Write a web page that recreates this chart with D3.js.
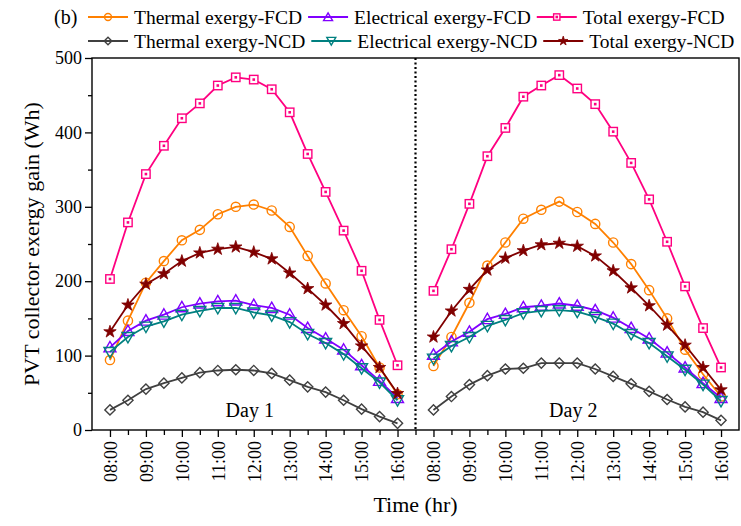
<!DOCTYPE html>
<html>
<head>
<meta charset="utf-8">
<script src="https://cdn.jsdelivr.net/npm/d3@7"></script>
<style>
  body { margin: 0; background: #fff; }
  text { font-family: "Liberation Serif", "Times New Roman", serif; fill: #000; }
</style>
</head>
<body>
<svg id="svg" width="741" height="526"></svg>
<script>
// time labels for one day (half-hour steps)
const times = ["08:00","08:30","09:00","09:30","10:00","10:30","11:00","11:30","12:00",
               "12:30","13:00","13:30","14:00","14:30","15:00","15:30","16:00"];
const days = ["Day 1", "Day 2"];

// day 1 values (Wh)
const thermalFCD1 = [94,147,198,227,255,269,290,300,303,295,273,234,197,161,126,84,48];
const elecFCD1    = [111,133,147,155,165,170,173,174,168,164,155,137,123,108,87,66,43];
const totalFCD1   = [203,279,344,382,419,439,463,474,471,458,427,371,320,268,214,148,87];
const thermalNCD1 = [27,40,55,63,70,77,80,81,80,76,67,58,51,40,28,18,9];
const elecNCD1    = [105,125,139,146,155,160,164,164,158,154,145,129,117,102,83,64,40];
const totalNCD1   = [132,168,196,210,227,238,243,246,239,230,211,190,168,143,113,84,49];

// day 2 values (Wh)
const thermalFCD2 = [86,125,171,221,252,284,296,307,293,277,252,223,188,150,108,75,45];
const elecFCD2    = [101,119,132,149,156,165,167,170,167,161,151,137,123,104,84,63,43];
const totalFCD2   = [187,243,304,368,406,448,463,477,459,438,401,359,310,253,193,137,84];
const thermalNCD2 = [27,45,61,73,82,83,90,90,90,82,72,62,52,41,31,24,13];
const elecNCD2    = [96,113,125,140,148,157,160,161,159,152,143,129,117,99,81,61,39];
const totalNCD2   = [125,160,189,215,231,241,249,251,247,234,214,191,167,141,114,84,54];

const seriesNames = ["Thermal exergy-FCD", "Electrical exergy-FCD", "Total exergy-FCD",
                     "Thermal exergy-NCD", "Electrical exergy-NCD", "Total exergy-NCD"];
const yTicks = [0, 100, 200, 300, 400, 500];

const series = [
  { name: seriesNames[0], d1: thermalFCD1, d2: thermalFCD2, color: "#ff8000", sym: "circle" },
  { name: seriesNames[1], d1: elecFCD1,    d2: elecFCD2,    color: "#8000ff", sym: "triangle" },
  { name: seriesNames[2], d1: totalFCD1,   d2: totalFCD2,   color: "#ff0080", sym: "square" },
  { name: seriesNames[3], d1: thermalNCD1, d2: thermalNCD2, color: "#404040", sym: "diamond" },
  { name: seriesNames[4], d1: elecNCD1,    d2: elecNCD2,    color: "#008080", sym: "triangleDown" },
  { name: seriesNames[5], d1: totalNCD1,   d2: totalNCD2,   color: "#800000", sym: "star" }
];

const svg = d3.select("#svg");
const mLeft = 92, mRight = 739, mTop = 58, mBottom = 430;
const perDay = times.length;              // 17 points
const nSlots = 2 * (perDay + 1);          // 36 slots across the frame

const x = d3.scaleLinear().domain([0, nSlots]).range([mLeft, mRight]);
const y = d3.scaleLinear().domain([0, 500]).range([mBottom, mTop]);
const slot = (day, i) => day * (perDay + 1) + i + 1;

// axes
const majorSlots = [], minorSlots = [];
for (let s = 1; s < nSlots; s++) {
  const i = (s - 1) % (perDay + 1);
  if (i < perDay && i % 2 === 0) majorSlots.push(s); else minorSlots.push(s);
}
const labelOf = s => times[(s - 1) % (perDay + 1)];

svg.append("g").attr("transform", `translate(0,${mBottom})`)
  .call(d3.axisBottom(x).tickValues(minorSlots).tickSize(5).tickFormat(""));
const xMajor = svg.append("g").attr("transform", `translate(0,${mBottom})`)
  .call(d3.axisBottom(x).tickValues(majorSlots).tickSize(7).tickFormat(labelOf));
xMajor.selectAll("text")
  .attr("transform", "rotate(-90)")
  .attr("x", -11).attr("y", 0).attr("dy", "0.35em")
  .style("text-anchor", "end").style("font-size", "18px");

svg.append("g").attr("transform", `translate(${mLeft},0)`)
  .call(d3.axisLeft(y).tickValues([50, 150, 250, 350, 450]).tickSize(4).tickFormat(""));
const yMajor = svg.append("g").attr("transform", `translate(${mLeft},0)`)
  .call(d3.axisLeft(y).tickValues(yTicks).tickSize(7));
yMajor.selectAll("text").attr("x", -10).style("font-size", "18px");

svg.selectAll(".domain").remove();
svg.selectAll(".tick line").attr("stroke", "#000").attr("stroke-width", 1.3);

// frame
svg.append("rect").attr("x", mLeft).attr("y", mTop)
  .attr("width", mRight - mLeft).attr("height", mBottom - mTop)
  .attr("fill", "none").attr("stroke", "#000").attr("stroke-width", 1.4);

// divider between days
svg.append("line")
  .attr("x1", x(perDay + 1)).attr("x2", x(perDay + 1))
  .attr("y1", mTop).attr("y2", mBottom)
  .attr("stroke", "#000").attr("stroke-width", 2.2).attr("stroke-dasharray", "2,2.5");

// markers
function marker(g, sym, color, scale) {
  const k = scale || 1;
  if (sym === "circle") {
    g.append("circle").attr("r", 4.6 * k).attr("fill", "none")
      .attr("stroke", color).attr("stroke-width", 1.4);
  } else if (sym === "square") {
    g.append("rect").attr("x", -4.2 * k).attr("y", -4.2 * k)
      .attr("width", 8.4 * k).attr("height", 8.4 * k)
      .attr("fill", "#fff").attr("stroke", color).attr("stroke-width", 1.4);
    g.append("rect").attr("x", -1.3).attr("y", -1.3).attr("width", 2.6).attr("height", 2.6)
      .attr("fill", color);
  } else if (sym === "diamond") {
    g.append("path").attr("d", d3.symbol(d3.symbolSquare, 52 * k * k)())
      .attr("transform", "rotate(45)")
      .attr("fill", "none").attr("stroke", color).attr("stroke-width", 1.4);
  } else if (sym === "triangle" || sym === "triangleDown") {
    g.append("path").attr("d", d3.symbol(d3.symbolTriangle, 62 * k * k)())
      .attr("transform", (sym === "triangleDown" ? "rotate(180) " : "") + "translate(0,1)")
      .attr("fill", "none").attr("stroke", color).attr("stroke-width", 1.4);
  } else if (sym === "star") {
    g.append("path").attr("d", d3.symbol(d3.symbolStar, 48 * k * k)())
      .attr("fill", color).attr("stroke", color).attr("stroke-width", 0.8);
  }
}

const line = d3.line().x(d => x(d.s)).y(d => y(d.v));

series.forEach(ser => {
  [ser.d1, ser.d2].forEach((vals, day) => {
    const pts = vals.map((v, i) => ({ s: slot(day, i), v }));
    svg.append("path").attr("d", line(pts))
      .attr("fill", "none").attr("stroke", ser.color).attr("stroke-width", 1.8);
    pts.forEach(p => {
      const g = svg.append("g").attr("transform", `translate(${x(p.s)},${y(p.v)})`);
      marker(g, ser.sym, ser.color);
    });
  });
});

// day labels
days.forEach((d, day) => {
  svg.append("text").attr("x", x(slot(day, 8)) - 4).attr("y", 417)
    .attr("text-anchor", "middle").style("font-size", "20px").text(d);
});

// axis titles
svg.append("text").attr("x", (mLeft + mRight) / 2).attr("y", 512)
  .attr("text-anchor", "middle").style("font-size", "22px").text("Time (hr)");
svg.append("text")
  .attr("transform", `translate(39,${(mTop + mBottom) / 2}) rotate(-90)`)
  .attr("text-anchor", "middle").style("font-size", "22px")
  .text("PVT collector exergy gain (Wh)");

// legend
svg.append("text").attr("x", 54).attr("y", 24).style("font-size", "20px").text("(b)");
const legRows = [series.slice(0, 3), series.slice(3)];
legRows.forEach((row, r) => {
  let cx = 88;
  const ly = 17 + r * 24;
  row.forEach(ser => {
    svg.append("line").attr("x1", cx).attr("x2", cx + 40).attr("y1", ly).attr("y2", ly)
      .attr("stroke", ser.color).attr("stroke-width", 1.8);
    marker(svg.append("g").attr("transform", `translate(${cx + 20},${ly})`), ser.sym, ser.color, 0.75);
    const t = svg.append("text").attr("x", cx + 46).attr("y", ly + 6.5)
      .style("font-size", "19.5px").text(ser.name);
    cx += 46 + t.node().getComputedTextLength() + 6;
  });
});
</script>
</body>
</html>
